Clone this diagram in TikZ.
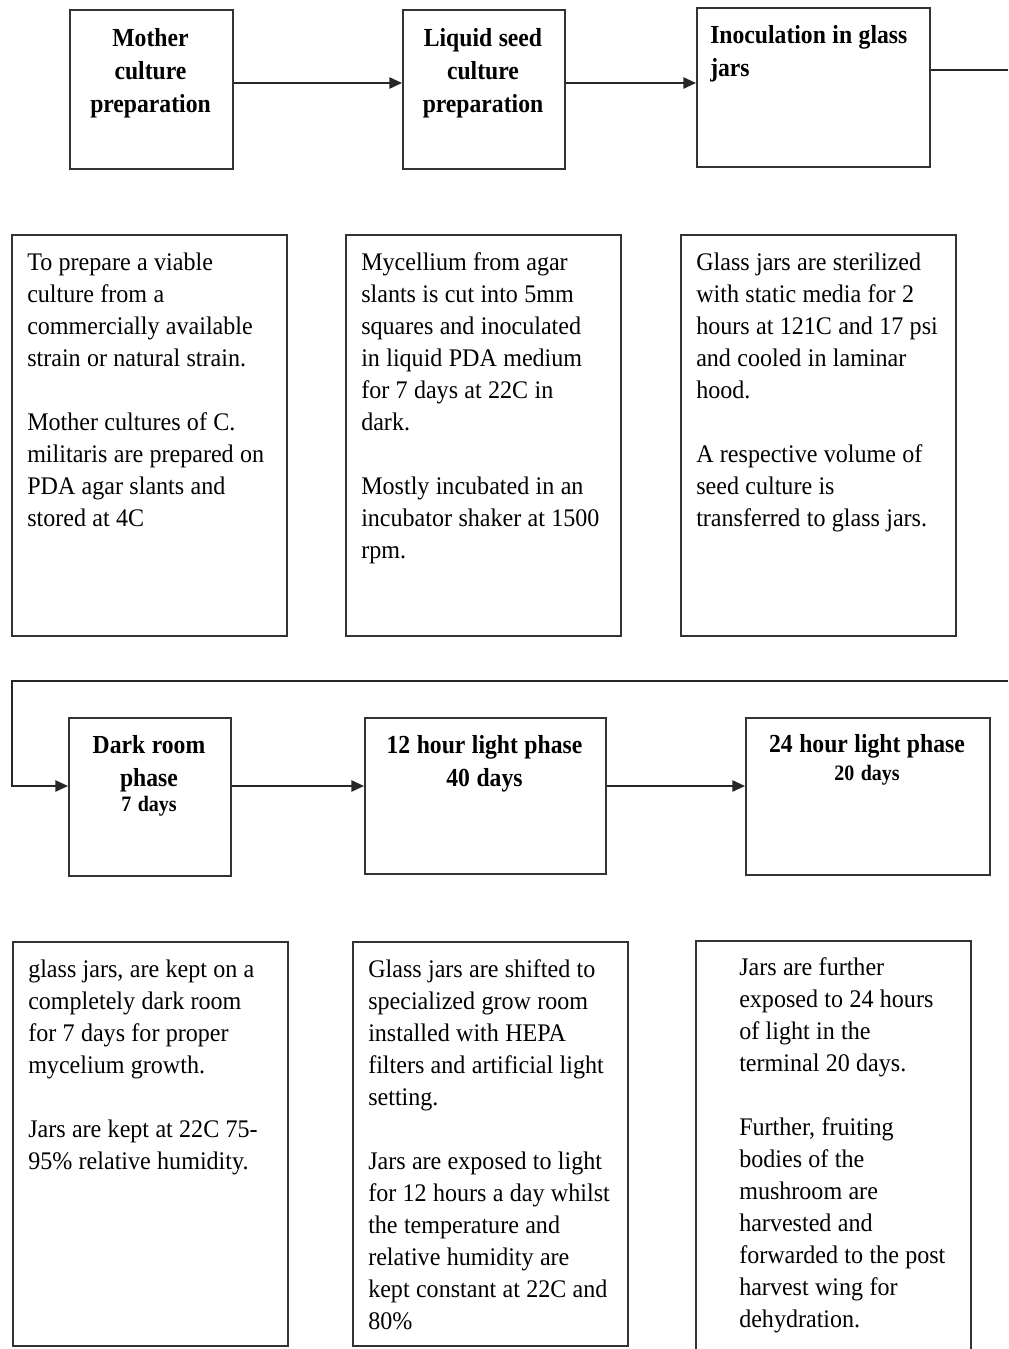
\documentclass[tikz,border=0pt]{standalone}
\usepackage{fontspec}
\setmainfont{Liberation Serif}[FakeStretch=0.95]
\newfontfamily\headfont{Liberation Serif}[FakeStretch=0.91]
\usetikzlibrary{arrows.meta,positioning}
\newcommand{\pxu}{0.75pt}
\newcommand{\daysize}{\fontsize{16.5}{19}\selectfont}
\newcommand{\tightspace}{\spaceskip=0.25em\relax\xspaceskip=0.3em\relax}
\tikzset{
  stepbox/.style={draw=black!80, line width=1.4pt, inner sep=0pt, anchor=north west},
  headtext/.style={inner sep=0pt, anchor=base, align=center, execute at begin node={\tightspace},
    font=\headfont\bfseries\fontsize{19.5}{24.75}\selectfont},
  bodytext/.style={inner sep=0pt, anchor=base west, align=left, text width=255*\pxu, execute at begin node={\tightspace},
    font=\fontsize{19}{24}\selectfont},
  flow/.style={line width=1.2pt, draw=black!85, -{Triangle[length=9.5pt,width=8.5pt]}},
  link/.style={line width=1.2pt, draw=black!85}
}
\begin{document}
\begin{tikzpicture}[x=\pxu, y=-\pxu]
\clip (0,0) rectangle (1008,1349);
% step boxes
\foreach \nm/\x/\y/\w/\h in {mother/69/9/163/159, liquid/402/9/162/159, inoc/696/7/233/159,
  dark/68/717/162/158, light/364/717/241/156, full/745/717/244/157}
  \node[stepbox, minimum width=\w*\pxu, minimum height=\h*\pxu] (\nm) at (\x,\y) {};
% description boxes
\foreach \nm/\x/\y/\w/\h in {motherD/11/234/275/401, liquidD/345/234/275/401, inocD/680/234/275/401,
  darkD/12/941/275/404, lightD/352/941/275/404, fullD/695/940/275/415}
  \node[stepbox, minimum width=\w*\pxu, minimum height=\h*\pxu] (\nm) at (\x,\y) {};

\node[headtext, text width=160*\pxu] (motherT) at (150.5,46) {Mother\\culture\\preparation};
\node[headtext, text width=160*\pxu] (liquidT) at (483,46) {Liquid seed\\culture\\preparation};
\node[headtext, anchor=base west, align=left, text width=225*\pxu] (inocT) at (710,43) {Inoculation in glass\\jars};
\node[headtext, text width=160*\pxu] (darkT) at (149,753) {Dark room\\phase\\[-6pt]{\daysize 7 days}};
\node[headtext, text width=240*\pxu] (lightT) at (484.5,753) {12 hour light phase\\40 days};
\node[headtext, text width=240*\pxu] (fullT) at (867,752) {24 hour light phase\\[-3.75pt]{\daysize 20 days}};

\node[bodytext] (motherB) at (27,270) {To prepare a viable\\culture from a\\commercially available\\strain or natural strain.\\[24pt]Mother cultures of C.\\militaris are prepared on\\PDA agar slants and\\stored at 4C};
\node[bodytext] (liquidB) at (361,270) {Mycellium from agar\\slants is cut into 5mm\\squares and inoculated\\in liquid PDA medium\\for 7 days at 22C in\\dark.\\[24pt]Mostly incubated in an\\incubator shaker at 1500\\rpm.};
\node[bodytext] (inocB) at (696,270) {Glass jars are sterilized\\with static media for 2\\hours at 121C and 17 psi\\and cooled in laminar\\hood.\\[24pt]A respective volume of\\seed culture is\\transferred to glass jars.};
\node[bodytext] (darkB) at (28,977) {glass jars, are kept on a\\completely dark room\\for 7 days for proper\\mycelium growth.\\[24pt]Jars are kept at 22C 75-\\95\% relative humidity.};
\node[bodytext] (lightB) at (368,977) {Glass jars are shifted to\\specialized grow room\\installed with HEPA\\filters and artificial light\\setting.\\[24pt]Jars are exposed to light\\for 12 hours a day whilst\\the temperature and\\relative humidity are\\kept constant at 22C and\\80\%};
\node[bodytext] (fullB) at (739,975) {Jars are further\\exposed to 24 hours\\of light in the\\terminal 20 days.\\[24pt]Further, fruiting\\bodies of the\\mushroom are\\harvested and\\forwarded to the post\\harvest wing for\\dehydration.};

% connectors
\coordinate (toprow) at (0,83);
\coordinate (midrow) at (0,786);
\coordinate (outA) at (1008,70);
\coordinate (inB) at (1008,681);
\coordinate (turnB) at (12,681);
\draw[flow] (mother.east |- toprow) -- (liquid.west |- toprow);
\draw[flow] (liquid.east |- toprow) -- (inoc.west |- toprow);
\draw[link] (inoc.east |- outA) -- (outA);
\draw[flow] (inB) -- (turnB) |- (dark.west |- midrow);
\draw[flow] (dark.east |- midrow) -- (light.west |- midrow);
\draw[flow] (light.east |- midrow) -- (full.west |- midrow);
\end{tikzpicture}
\end{document}
